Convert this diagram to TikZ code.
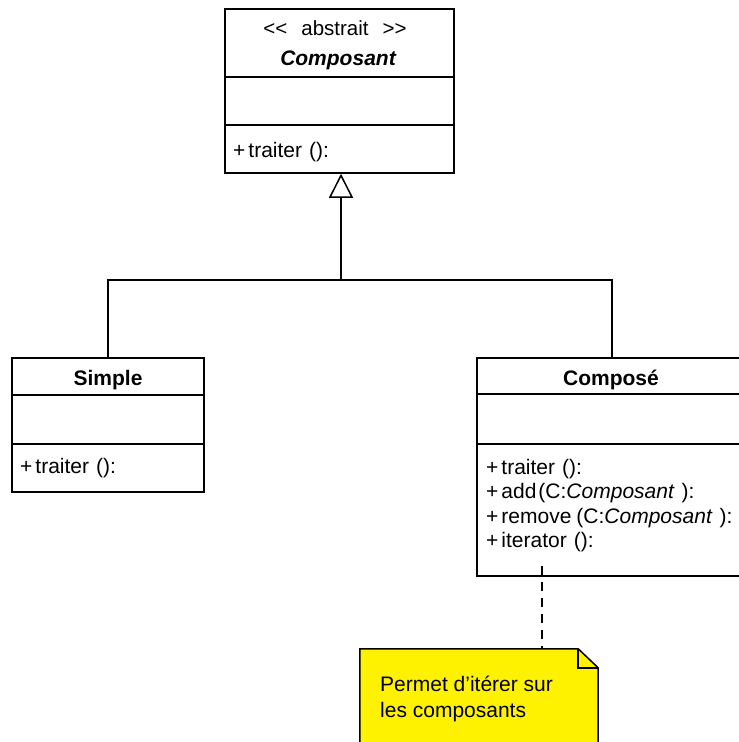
\documentclass[tikz,border=0pt]{standalone}
\usepackage{fontspec}
\setmainfont{Liberation Sans}
\usetikzlibrary{arrows.meta}
\begin{document}
\begin{tikzpicture}[x=1pt,y=-1pt,
  classbox/.style={draw, line width=1.5pt, fill=white, inner sep=0pt},
  sep/.style={line width=1.5pt},
  member/.style={anchor=base west, inner sep=0pt, font=\fontsize{21}{24}\selectfont},
  title/.style={anchor=base, inner sep=0pt, font=\fontsize{21}{24}\selectfont\bfseries},
  notetext/.style={anchor=base west, inner sep=0pt, font=\fontsize{21}{26}\selectfont},
  conn/.style={line width=1.5pt},
  dep/.style={line width=1.5pt, dash pattern=on 9pt off 7pt}
]
\useasboundingbox (0,0) rectangle (739,742);
\clip (0,0) rectangle (739,742);
\fill[white] (0,0) rectangle (739,742);

% Composant
\node[classbox, minimum width=229pt, minimum height=164pt] (comp) at (339.5,91) {};
\draw[sep] (comp.west |- 0,77) -- (comp.east |- 0,77);
\draw[sep] (comp.west |- 0,125) -- (comp.east |- 0,125);
\node[anchor=base, inner sep=0pt, font=\fontsize{20.5}{24}\selectfont] (stereo) at (335,35) {<{}<\hspace{14pt}abstrait\hspace{14pt}>{}>};
\node[title] (compname) at (338,65) {\itshape Composant};
\node[member] (comptr) at (233,157) {+\hspace{3pt}traiter\hspace{7pt}():};

% Simple
\node[classbox, minimum width=192pt, minimum height=134pt] (simple) at (108,425) {};
\draw[sep] (simple.west |- 0,395) -- (simple.east |- 0,395);
\draw[sep] (simple.west |- 0,444) -- (simple.east |- 0,444);
\node[title] (simplename) at (108,385) {Simple};
\node[member] (simpletr) at (20,473) {+\hspace{3pt}traiter\hspace{7pt}():};

% Compose
\node[classbox, minimum width=270pt, minimum height=218pt] (compose) at (612,467) {};
\draw[sep] (compose.west |- 0,394) -- (compose.east |- 0,394);
\draw[sep] (compose.west |- 0,444) -- (compose.east |- 0,444);
\node[title] (composename) at (611,385) {Composé};
\node[member] (m1) at (486,474) {+\hspace{3pt}traiter\hspace{7pt}():};
\node[member] (m2) at (486,498.5) {+\hspace{3pt}add\hspace{2pt}(C:\textit{Composant}\hspace{7pt}):};
\node[member] (m3) at (486,523) {+\hspace{3pt}remove\hspace{5pt}(C:\textit{Composant}\hspace{7pt}):};
\node[member] (m4) at (486,547.5) {+\hspace{3pt}iterator\hspace{7pt}():};

% Generalisation
\coordinate (j) at (341,280);
\draw[conn] (simple.north) |- (j);
\draw[conn] (compose.north) |- (j);
\draw[conn, -{Triangle[open, length=24pt, width=24pt, line width=1.5pt]}] (j) -- (comp.south -| j);

% Note
\node[inner sep=0pt, minimum width=238pt, minimum height=111pt] (note) at (479,704.5) {};
\draw[line width=1.5pt, fill=yellow, line join=miter]
  (note.north west) -- ([xshift=-20pt]note.north east) -- ([yshift=-19pt]note.north east)
  -- (note.south east) -- (note.south west) -- cycle;
\draw[line width=1.5pt]
  ([xshift=-20pt]note.north east) -- ([xshift=-20pt,yshift=-19pt]note.north east) -- ([yshift=-19pt]note.north east);
\node[notetext] (nt1) at (380,691) {Permet d’itérer sur};
\node[notetext] (nt2) at (380,717) {les composants};

\coordinate (dstart) at (542,566);
\draw[dep] (dstart) -- (dstart |- note.north);
\end{tikzpicture}
\end{document}
